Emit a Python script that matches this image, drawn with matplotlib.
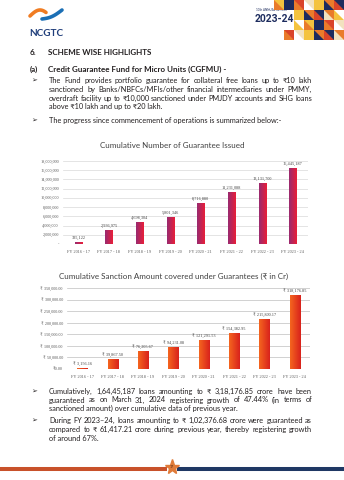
import numpy as np
import matplotlib
matplotlib.use("Agg")
import matplotlib.pyplot as plt
from matplotlib.colors import LinearSegmentedColormap
from matplotlib.patches import Rectangle

years = ["FY 2016 - 17", "FY 2017 - 18", "FY 2018 - 19", "FY 2019 - 20",
         "FY 2020 - 21", "FY 2021 - 22", "FY 2022 - 23", "FY 2023 - 24"]
guarantees = [335122, 2936975, 4698304, 5801346, 8716880, 11231088, 13131700, 16445187]
amounts = [3156.16, 39867.50, 76205.67, 94231.08, 121291.53, 154382.95, 215800.17, 318176.85]

para1 = ["The Fund provides portfolio guarantee for collateral free loans up to ₹10 lakh",
         "sanctioned by Banks/NBFCs/MFIs/other financial intermediaries under PMMY,",
         "overdraft facility up to ₹10,000 sanctioned under PMJDY accounts and SHG loans",
         "above ₹10 lakh and up to ₹20 lakh."]
para2 = ["The progress since commencement of operations is summarized below:-"]
para3 = ["Cumulatively, 1,64,45,187 loans amounting to ₹ 3,18,176.85 crore have been",
         "guaranteed as on March 31, 2024 registering growth of 47.44% (in terms of",
         "sanctioned amount) over cumulative data of previous year."]
para4 = ["During FY 2023–24, loans amounting to ₹ 1,02,376.68 crore were guaranteed as",
         "compared to ₹ 61,417.21 crore during previous year, thereby registering growth",
         "of around 67%."]

W, H = 344, 480
SANS = ["Lato", "DejaVu Sans"]
SERIF = ["Liberation Serif", "DejaVu Serif"]
TXT = "#231f20"
BODY = 5.35

fig = plt.figure(figsize=(W / 100, H / 100), dpi=100)
bg = fig.add_axes([0, 0, 1, 1])
bg.set_xlim(0, W)
bg.set_ylim(H, 0)
bg.axis("off")
renderer = fig.canvas.get_renderer()


def px_axes(l, t, r, b):
    return fig.add_axes([l / W, 1 - b / H, (r - l) / W, (b - t) / H])


def justify(lines, x0, x1, ys, size=BODY):
    # ys are text centres; draw on the baseline so words line up
    for i, (line, y) in enumerate(zip(lines, ys)):
        yb = y + 2
        if i == len(lines) - 1:
            bg.text(x0, yb, line, fontsize=size, family=SANS, color=TXT, va="baseline")
            continue
        words = line.split()
        objs = [bg.text(0, yb, w, fontsize=size, family=SANS, color=TXT, va="baseline") for w in words]
        widths = [t.get_window_extent(renderer).width for t in objs]
        gap = (x1 - x0 - sum(widths)) / (len(words) - 1)
        x = x0
        for t, w in zip(objs, widths):
            t.set_x(x)
            x += w + gap


# top-right pattern: a block of squares, each cut by a diagonal
pal = ["#1d2c5e", "#e97b2b", "#f4c33f", "#f2e2bf", "#d9442a", "#1d2c5e", "#f4c33f", "#ffffff", "#e97b2b"]
row_start = [270, 294, 294, 284]
k = 0
for r in range(4):
    for c in range(8):
        cx = W - (c + 1) * 10
        cy = r * 10
        if cx < row_start[r]:
            continue
        bg.add_patch(Rectangle((cx, cy), 10, 10, facecolor=pal[k % 9], edgecolor="none", zorder=10))
        bg.fill([cx, cx, cx + 10], [cy, cy + 10, cy + 10], facecolor=pal[(k + 4) % 9],
                edgecolor="none", zorder=11)
        k += 1

# logo
t = np.linspace(0, 1, 30)
bg.plot(30 + 16 * t, 16 - 6 * np.sin(np.pi * t * 0.8), color="#f07c22", lw=2.6, solid_capstyle="round")
bg.plot(42 + 20 * t, 19 - 9 * t + 2 * np.sin(np.pi * t), color="#1b6fb5", lw=2.6, solid_capstyle="round")
bg.text(29, 33, "NCGTC", fontsize=7.2, fontweight="bold", family=SANS, color="#1f3d7a", va="center")

bg.text(256, 10, "10th ANNUAL REPORT", fontsize=2.2, family=SANS, color="#1d2c5e", va="center")
bg.text(255, 18.5, "2023-24", fontsize=7.4, fontweight="bold", family=["Roboto", "DejaVu Sans"],
        color="#1d2c5e", va="center", zorder=12)

# headings and text
HEAD = 5.8
bg.text(30, 55, "6.", fontsize=HEAD, fontweight="bold", family=SANS, color=TXT, va="baseline")
bg.text(48, 55, "SCHEME WISE HIGHLIGHTS", fontsize=HEAD, fontweight="bold", family=SANS, color=TXT, va="baseline")
bg.text(30, 72, "(a)", fontsize=HEAD, fontweight="bold", family=SANS, color=TXT, va="baseline")
bg.text(48, 72, "Credit Guarantee Fund for Micro Units (CGFMU) -", fontsize=HEAD, fontweight="bold",
        family=SANS, color=TXT, va="baseline")
for by in [81, 121, 392, 421]:
    bg.text(31, by, "➢", fontsize=5, family=["DejaVu Sans"], color=TXT, va="center")
justify(para1, 49, 312, [81, 90, 99, 107.5])
justify(para2, 49, 312, [121])
justify(para3, 49, 312, [392, 400.5, 409])
justify(para4, 49, 312, [421, 430, 439])

grad = np.linspace(0, 1, 32).reshape(1, -1)


def grad_bars(ax, vals, width, c0, c1, fmt, top):
    cmap = LinearSegmentedColormap.from_list("g", [c0, c1])
    x = np.arange(len(vals))
    bars = ax.bar(x, vals, width, color="none")
    for b, v in zip(bars, vals):
        ax.imshow(grad, cmap=cmap, extent=(b.get_x(), b.get_x() + b.get_width(), 0, v),
                  aspect="auto", zorder=2)
        ax.annotate(fmt(v), (b.get_x() + b.get_width() / 2, v), xytext=(0, 1.8), textcoords="offset points",
                    ha="center", va="bottom", fontsize=3.1, family=SERIF, color="#404040")
    ax.set_xlim(-0.5, len(vals) - 0.5)
    ax.set_ylim(0, top)
    ax.set_xticks(x)
    ax.set_xticklabels(years)
    for s in ax.spines.values():
        s.set_visible(False)
    ax.set_axisbelow(True)
    ax.tick_params(length=0, labelsize=3.1, labelcolor="#595959")


# chart 1
ax1 = px_axes(63, 161, 308, 244)
grad_bars(ax1, guarantees, 0.23, "#992a70", "#e81f3a", lambda v: f"{v:,.0f}", 18e6)
yt = np.arange(0, 18e6 + 1, 2e6)
ax1.set_yticks(yt)
ax1.set_yticklabels(["-" if v == 0 else f"{v:,.0f}" for v in yt])
ax1.yaxis.grid(True, color="#d9d9d9", lw=0.5)
ax1.tick_params(axis="y", pad=3)
ax1.tick_params(axis="x", pad=4)
for lab in ax1.get_xticklabels() + ax1.get_yticklabels():
    lab.set_family(SERIF)
bg.text(172, 145, "Cumulative Number of Guarantee Issued", fontsize=5.8, family=SANS, color="#404040",
        ha="center", va="center")

# chart 2
ax2 = px_axes(67, 288, 310, 369)
grad_bars(ax2, amounts, 0.33, "#f4651f", "#d9221c", lambda v: f"₹ {v:,.2f}", 350000)
yt2 = np.arange(0, 350001, 50000)
ax2.set_yticks(yt2)
ax2.set_yticklabels(["₹0.00" if v == 0 else f"₹ {v:,.2f}" for v in yt2])
ax2.yaxis.grid(True, color="#bfbfbf", lw=0.5)
ax2.tick_params(axis="y", pad=3)
ax2.tick_params(axis="x", pad=4)
for lab in ax2.get_xticklabels() + ax2.get_yticklabels():
    lab.set_family(SERIF)
bg.text(174, 276, "Cumulative Sanction Amount covered under Guarantees (₹ in Cr)", fontsize=5.8,
        family=SANS, color="#404040", ha="center", va="center")

# footer
bg.plot([0, 167], [469, 469], color="#c8512a", lw=2.9, solid_capstyle="butt")
bg.plot([177, W], [469, 469], color="#1f3864", lw=2.9, solid_capstyle="butt")
bg.plot([172], [467], marker="*", ms=11, color="#e07b39", mec="#e07b39")
bg.text(172, 467.5, "17", fontsize=2.6, color="#5a2a10", ha="center", va="center", family=SANS)

fig.savefig("out.png", dpi=100)
